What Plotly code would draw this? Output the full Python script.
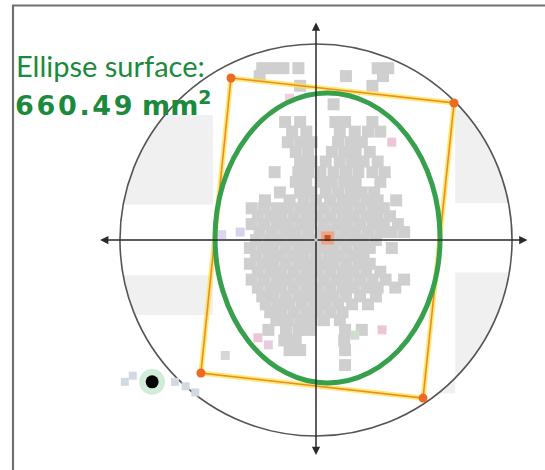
import numpy as np
import plotly.graph_objects as go

# ---------------- data (millimetres, origin = target centre, y up) ----------------
circle_radius = 22.25
ellipse_center = [1.31, 0.23]
ellipse_semi_axes = [12.77, 16.46]
ellipse_area_label = "660.49"

rect_corner_x = [-9.65, 15.67, 12.15, -13.06]
rect_corner_y = [18.39, 15.55, -17.94, -15.10]

selected_point = [-18.6, -16.1]

outlier_x = [-21.7, -20.8, -16.0, -14.8, -13.7]
outlier_y = [-16.1, -15.4, -16.1, -16.6, -17.3]

pastel_x = [8.6, 7.5, -6.6, -5.4, -10.3, -8.6, -10.7, -3.0, 4.4]
pastel_y = [11.1, -10.2, -11.1, -11.9, -13.1, 0.9, 0.6, 16.1, -10.8]
pastel_colors = ["#ecc6d6", "#ecc6d6", "#ecc6d6", "#e6cde0", "#d6d6d6",
                 "#d9d2ea", "#dcd6ee", "#f0d0dc", "#cfdccf"]

cloud_rows = [
    (19.5, [-6.1, -5.0, -3.7, -2.0, 7.0, 8.2]),
    (18.6, [-6.4, 3.4, 7.6]),
    (17.5, [-1.8, 6.4]),
    (15.4, [2.0]),
    (13.4, [-3.5, -1.8, 2.2, 3.3, 6.4]),
    (12.3, [-2.7, -1.1, 2.7, 4.4, 5.9, 7.3]),
    (11.1, [-3.2, -1.8, -0.5, 2.5, 3.9, 5.2]),
    (10.0, [-2.3, -0.9, 1.8, 3.2, 4.5, 6.1]),
    (8.9, [-1.8, -0.5, 1.1, 2.7, 4.1, 5.4, 7.0]),
    (7.7, [-4.7, -2.0, -0.9, 0.5, 2.0, 3.4, 4.8, 6.4, 7.8]),
    (6.6, [-2.3, -1.1, 0.5, 1.8, 3.2, 4.5, 7.3]),
    (5.4, [-4.1, -1.8, -0.5, 1.1, 2.5, 3.9, 5.2, 6.6]),
    (4.5, [-5.8, -3.0, -1.4, 0.0, 1.6, 3.0, 4.3, 5.7, 7.0, 9.1]),
    (3.6, [-7.3, -5.9, -4.5, -3.2, -1.8, -0.5, 0.9, 2.3, 3.6, 5.0, 6.4, 7.7]),
    (2.7, [-6.6, -5.2, -3.9, -2.5, -1.1, 0.2, 1.6, 3.0, 4.3, 5.7, 7.0, 8.4]),
    (1.8, [-7.3, -5.9, -4.5, -3.2, -1.8, -0.5, 0.9, 2.3, 3.6, 5.0, 6.4, 7.7, 9.3]),
    (0.9, [-6.4, -5.0, -3.6, -2.3, -0.9, 0.5, 1.8, 3.2, 4.5, 5.9, 7.3, 8.6, 10.0]),
    (0.0, [-6.8, -5.4, -4.1, -2.7, -1.4, 0.0, 1.4, 2.7, 4.1, 5.4, 6.8]),
    (-0.9, [-7.5, -6.1, -4.8, -3.4, -2.0, -0.7, 0.7, 2.0, 3.4, 4.8, 6.1, 8.6]),
    (-1.8, [-6.8, -5.4, -4.1, -2.7, -1.4, 0.0, 1.4, 2.7, 4.1, 5.4]),
    (-2.7, [-7.5, -6.1, -4.8, -3.4, -2.0, -0.7, 0.7, 2.0, 3.4, 4.8, 6.1]),
    (-3.6, [-6.6, -5.2, -3.9, -2.5, -1.1, 0.2, 1.6, 3.0, 4.3, 5.7, 7.3]),
    (-4.5, [-7.3, -5.9, -4.5, -3.2, -1.8, -0.5, 0.9, 2.3, 3.6, 5.0, 6.4, 7.9, 10.0]),
    (-5.4, [-6.6, -5.2, -3.9, -2.5, -1.1, 0.2, 1.6, 3.0, 4.3, 5.7, 7.0, 9.0]),
    (-6.4, [-6.1, -4.8, -3.4, -2.0, -0.7, 0.7, 2.0, 3.4, 5.0, 6.8]),
    (-7.3, [-5.7, -4.3, -3.0, -1.6, -0.2, 1.1, 2.5, 4.1, 5.9]),
    (-8.2, [-5.2, -3.9, -2.5, -1.1, 0.2, 1.6, 3.0]),
    (-9.1, [-4.5, -3.2, -1.8, -0.5, 0.9, 2.7]),
    (-10.2, [-5.4, -3.4, -2.0, -0.7, 3.3, 5.2]),
    (-11.4, [-3.6, -2.3, 3.2]),
    (-12.5, [-3.0, -1.8, 3.3]),
    (-14.2, [3.3]),
]

# shaded zones: (side, y_low, y_high, inner x limit)
zone_side = [-1, 1, -1, 1]
zone_y_low = [4.0, 4.2, -8.5, -17.4]
zone_y_high = [14.2, 14.8, -4.0, -3.7]
zone_x_inner = [-11.7, 15.8, -11.7, 15.8]

axis_x_ends = [-24.5, 24.0]
axis_y_ends = [-24.4, 24.7]

# ---------------- figure ----------------
W, H = 545, 470
MM = 0.1135  # mm per pixel
x_range = [-316 * MM, (W - 316) * MM]
y_range = [-(H - 240) * MM, 240 * MM]

GREEN_TXT = "#1b8a3d"

cloud_x = [x for y, xs in cloud_rows for x in xs]
cloud_y = [y for y, xs in cloud_rows for x in xs]

fig = go.Figure()

shapes = []
for side, y0, y1, xc in zip(zone_side, zone_y_low, zone_y_high, zone_x_inner):
    ys = np.linspace(y1, y0, 40)
    xs = side * np.sqrt(circle_radius ** 2 - ys ** 2)
    path = f"M {xc},{y0} L {xc},{y1} " + " ".join(f"L {a:.3f},{b:.3f}" for a, b in zip(xs, ys)) + " Z"
    shapes.append(dict(type="path", path=path, xref="x", yref="y", layer="below",
                       fillcolor="#f0f0f0", line=dict(width=0)))
shapes.append(dict(type="circle", xref="x", yref="y", layer="below",
                   x0=-circle_radius, x1=circle_radius, y0=-circle_radius, y1=circle_radius,
                   line=dict(color="#555555", width=1.6)))
cx, cy = ellipse_center
ea, eb = ellipse_semi_axes
shapes.append(dict(type="circle", xref="x", yref="y", layer="above",
                   x0=cx - ea, x1=cx + ea, y0=cy - eb, y1=cy + eb,
                   line=dict(color="#37a04c", width=5)))
shapes.append(dict(type="rect", xref="paper", yref="paper",
                   x0=13 / W, x1=1.1, y0=-0.1, y1=1 - 5.5 / H,
                   line=dict(color="#707070", width=2.2), fillcolor="rgba(0,0,0,0)"))

fig.add_trace(go.Scatter(x=cloud_x, y=cloud_y, mode="markers",
                         marker=dict(symbol="square", size=12, color="#cfcfcf", line=dict(width=0)),
                         hoverinfo="skip"))
fig.add_trace(go.Scatter(x=pastel_x, y=pastel_y, mode="markers",
                         marker=dict(symbol="square", size=9, color=pastel_colors, line=dict(width=0)),
                         hoverinfo="skip"))
fig.add_trace(go.Scatter(x=outlier_x, y=outlier_y, mode="markers",
                         marker=dict(symbol="square", size=8, color="#d3d9e3", line=dict(width=0)),
                         hoverinfo="skip"))
fig.add_trace(go.Scatter(x=[selected_point[0]], y=[selected_point[1]], mode="markers",
                         marker=dict(size=26, color="rgba(90,190,120,0.28)", line=dict(width=0)),
                         hoverinfo="skip"))
fig.add_trace(go.Scatter(x=[selected_point[0]], y=[selected_point[1]], mode="markers",
                         marker=dict(size=13, color="#050505", line=dict(width=0)),
                         hoverinfo="skip"))
rx = rect_corner_x + rect_corner_x[:1]
ry = rect_corner_y + rect_corner_y[:1]
fig.add_trace(go.Scatter(x=rx, y=ry, mode="lines",
                         line=dict(color="rgba(248,228,70,0.75)", width=5), hoverinfo="skip"))
fig.add_trace(go.Scatter(x=rx, y=ry, mode="lines",
                         line=dict(color="#ef8a2a", width=1.6), hoverinfo="skip"))
fig.add_trace(go.Scatter(x=rect_corner_x, y=rect_corner_y, mode="markers",
                         marker=dict(size=9, color="#ee6a22", line=dict(width=0)), hoverinfo="skip"))
fig.add_trace(go.Scatter(x=[cx], y=[cy], mode="markers",
                         marker=dict(symbol="square", size=13, color="rgba(250,150,110,0.75)", line=dict(width=0)),
                         hoverinfo="skip"))
fig.add_trace(go.Scatter(x=[cx], y=[cy], mode="markers",
                         marker=dict(symbol="square", size=6, color="#c9521f", line=dict(width=0)),
                         hoverinfo="skip"))

annotations = []
for xe in axis_x_ends:
    annotations.append(dict(x=xe, y=0, ax=0, ay=0, xref="x", yref="y", axref="x", ayref="y",
                            text="", showarrow=True, arrowhead=2, arrowsize=1.1,
                            arrowwidth=1.5, arrowcolor="#2a2a2a", standoff=0, startstandoff=0))
for ye in axis_y_ends:
    annotations.append(dict(x=0, y=ye, ax=0, ay=0, xref="x", yref="y", axref="x", ayref="y",
                            text="", showarrow=True, arrowhead=2, arrowsize=1.1,
                            arrowwidth=1.5, arrowcolor="#2a2a2a", standoff=0, startstandoff=0))
annotations.append(dict(x=14 / W, y=1 - 66 / H, xref="paper", yref="paper",
                        xanchor="left", yanchor="middle", showarrow=False,
                        text="Ellipse surface:",
                        font=dict(family="Lato", size=29, color=GREEN_TXT)))
num = "\u200a".join(ellipse_area_label)
annotations.append(dict(x=13 / W, y=1 - 103 / H, xref="paper", yref="paper",
                        xanchor="left", yanchor="middle", showarrow=False,
                        text=f"<b>{num} mm<sup>2</sup></b>",
                        font=dict(family="DejaVu Sans", size=27, color=GREEN_TXT)))

fig.update_layout(
    width=W, height=H, autosize=False,
    margin=dict(l=0, r=0, t=0, b=0, pad=0),
    paper_bgcolor="white", plot_bgcolor="white",
    showlegend=False,
    xaxis=dict(range=x_range, visible=False, fixedrange=True),
    yaxis=dict(range=y_range, visible=False, fixedrange=True),
    shapes=shapes, annotations=annotations,
)

fig.write_html("out.html", config={"displayModeBar": False},
               post_script="document.body.style.margin='0px';document.body.style.overflow='hidden';")
